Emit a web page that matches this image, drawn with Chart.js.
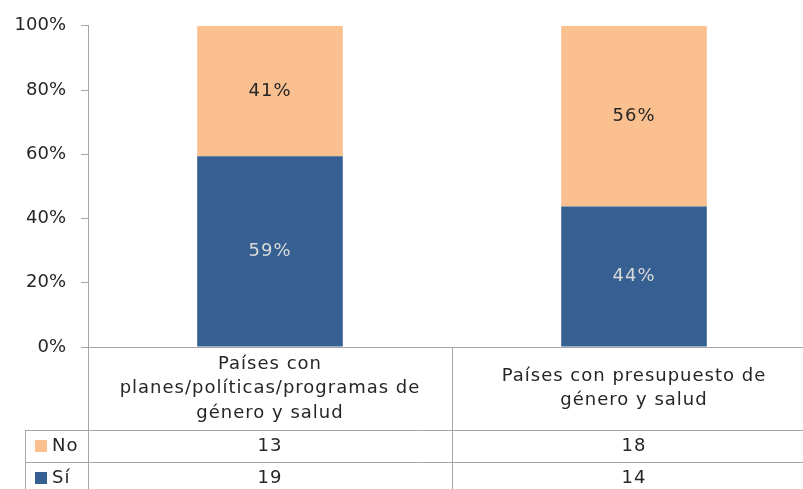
<!DOCTYPE html>
<html>
<head>
<meta charset="utf-8">
<script src="https://cdn.jsdelivr.net/npm/chart.js@4.4.1/dist/chart.umd.min.js"></script>
<style>
  html, body { margin: 0; padding: 0; background: #fff; overflow: hidden; }
  #wrap { width: 803px; height: 489px; overflow: hidden; }
</style>
</head>
<body>
<!-- the reference is cut off on the right, so the canvas is a bit wider than the page -->
<div id="wrap"><canvas id="myChart" width="816" height="489"></canvas></div>
<script>
var categories = [
  ['Países con', 'planes/políticas/programas de', 'género y salud'],
  ['Países con presupuesto de', 'género y salud']
];
var seriesNames = ['Sí', 'No'];
var siCounts = [19, 14];
var noCounts = [13, 18];
var yTicks = [0, 20, 40, 60, 80, 100];

var blue = '#376092';
var orange = '#fac090';
var lineGray = '#a6a6a6';
var textColor = '#262626';
var font = '"DejaVu Sans", sans-serif';

// 100% stacked: turn the counts into shares of each column
var totals = siCounts.map(function (v, i) { return v + noCounts[i]; });
var siPct = siCounts.map(function (v, i) { return v / totals[i] * 100; });
var noPct = noCounts.map(function (v, i) { return v / totals[i] * 100; });

var labelRowH = 83;
var rowH = 32;

var barLabels = {
  id: 'barLabels',
  afterDatasetsDraw: function (chart) {
    var ctx = chart.ctx;
    ctx.save();
    ctx.font = '18px ' + font;
    ctx.letterSpacing = '1px';
    ctx.textAlign = 'center';
    ctx.textBaseline = 'middle';
    chart.data.datasets.forEach(function (ds, di) {
      chart.getDatasetMeta(di).data.forEach(function (bar, i) {
        var p = bar.getProps(['x', 'y', 'base'], true);
        ctx.fillStyle = di === 0 ? '#d9d9d9' : textColor;
        ctx.fillText(Math.round(ds.data[i]) + '%', p.x, (p.y + p.base) / 2);
      });
    });
    ctx.letterSpacing = '0px';
    ctx.restore();
  }
};

var dataTable = {
  id: 'dataTable',
  afterDraw: function (chart) {
    var ctx = chart.ctx;
    var a = chart.chartArea;
    var x = chart.scales.x;
    var bottom = chart.height;
    var mid = (x.getPixelForValue(0) + x.getPixelForValue(1)) / 2;
    var r1 = a.bottom + labelRowH;
    var r2 = r1 + rowH;
    var keyLeft = 25;

    ctx.save();
    ctx.strokeStyle = lineGray;
    ctx.lineWidth = 1;
    ctx.beginPath();
    // vertical lines
    ctx.moveTo(a.left + 0.5, a.bottom); ctx.lineTo(a.left + 0.5, bottom);
    ctx.moveTo(Math.round(mid) + 0.5, a.bottom); ctx.lineTo(Math.round(mid) + 0.5, bottom);
    ctx.moveTo(keyLeft + 0.5, r1); ctx.lineTo(keyLeft + 0.5, bottom);
    // horizontal lines
    ctx.moveTo(keyLeft, r1 + 0.5); ctx.lineTo(a.right, r1 + 0.5);
    ctx.moveTo(keyLeft, r2 + 0.5); ctx.lineTo(a.right, r2 + 0.5);
    ctx.stroke();

    ctx.fillStyle = textColor;
    ctx.font = '18px ' + font;
    ctx.letterSpacing = '1px';
    ctx.textAlign = 'center';
    ctx.textBaseline = 'middle';
    var lh = 24.5;
    categories.forEach(function (lines, i) {
      var cx = x.getPixelForValue(i);
      var cy = a.bottom + labelRowH / 2 - (lines.length - 1) * lh / 2;
      lines.forEach(function (t, j) { ctx.fillText(t, cx, cy + j * lh); });
    });

    var rows = [
      { name: seriesNames[1], color: orange, vals: noCounts },
      { name: seriesNames[0], color: blue, vals: siCounts }
    ];
    rows.forEach(function (row, k) {
      var cy = r1 + k * rowH + rowH / 2;
      ctx.fillStyle = row.color;
      ctx.fillRect(35, cy - 6, 12, 12);
      ctx.fillStyle = textColor;
      ctx.textAlign = 'left';
      ctx.fillText(row.name, 52, cy);
      ctx.textAlign = 'center';
      row.vals.forEach(function (v, i) { ctx.fillText(String(v), x.getPixelForValue(i), cy); });
    });
    ctx.letterSpacing = '0px';
    ctx.restore();
  }
};

var ctx = document.getElementById('myChart').getContext('2d');
var myChart = new Chart(ctx, {
  type: 'bar',
  data: {
    labels: categories,
    datasets: [{
      label: seriesNames[0],
      data: siPct,
      backgroundColor: blue,
      barPercentage: 0.4,
      categoryPercentage: 1
    }, {
      label: seriesNames[1],
      data: noPct,
      backgroundColor: orange,
      barPercentage: 0.4,
      categoryPercentage: 1
    }]
  },
  options: {
    responsive: false,
    animation: false,
    layout: { padding: { top: 23, bottom: 142, left: 0, right: 0 } },
    plugins: {
      legend: { display: false },
      tooltip: { enabled: false }
    },
    scales: {
      x: {
        stacked: true,
        ticks: { display: false },
        grid: { display: false, drawTicks: false },
        border: { color: lineGray }
      },
      y: {
        stacked: true,
        min: 0,
        max: 100,
        afterBuildTicks: function (s) { s.ticks = yTicks.map(function (v) { return { value: v }; }); },
        afterFit: function (s) { s.width = 88; },
        ticks: {
          color: textColor,
          font: { family: font, size: 18 },
          padding: 15,
          callback: function (v) { return v + '%'; }
        },
        grid: { drawOnChartArea: false, tickLength: 7, color: lineGray },
        border: { color: lineGray }
      }
    }
  },
  plugins: [barLabels, dataTable]
});
</script>
</body>
</html>
